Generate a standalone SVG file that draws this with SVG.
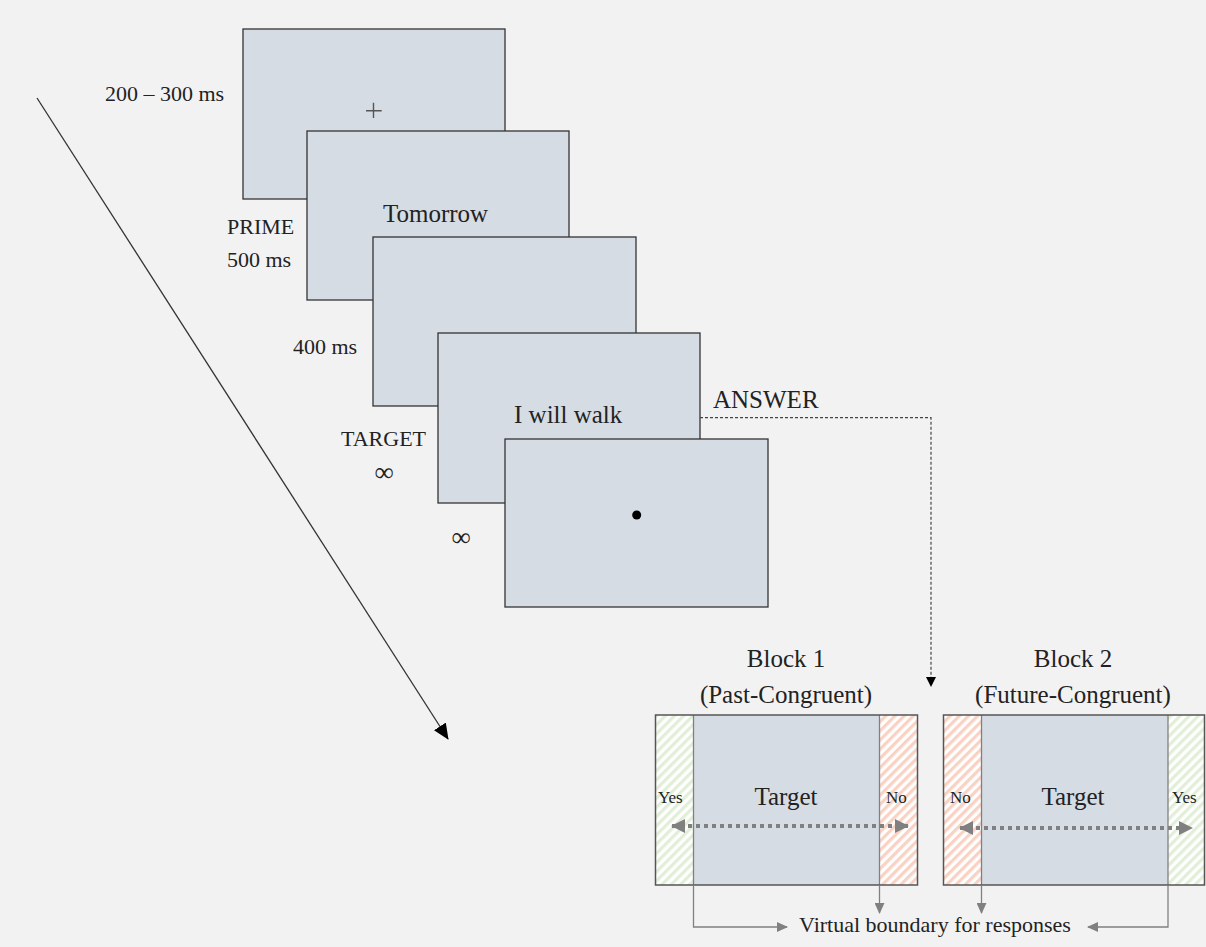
<svg xmlns="http://www.w3.org/2000/svg" width="1206" height="947" viewBox="0 0 1206 947">
<style>
.scr{fill:#d6dce4;stroke:#333;stroke-width:1.3}
.t{font-family:"Liberation Serif","Times New Roman",serif;fill:#222}
.lab{font-size:22px}
.big{font-size:25px}
.inf{font-size:27px}
.gl{stroke:#808080;stroke-width:1.3;fill:none}
.dot{stroke:#808080;stroke-width:4;stroke-dasharray:4 4;fill:none}
</style>
<defs>
<pattern id="hg" width="6.5" height="6.5" patternUnits="userSpaceOnUse" patternTransform="rotate(45)">
<rect width="6.5" height="6.5" fill="#fff"/>
<rect width="3.2" height="6.5" fill="#e2efd8"/>
</pattern>
<pattern id="hr" width="6.5" height="6.5" patternUnits="userSpaceOnUse" patternTransform="rotate(45)">
<rect width="6.5" height="6.5" fill="#fff"/>
<rect width="3.2" height="6.5" fill="#f9d2c3"/>
</pattern>
<marker id="ab" markerWidth="10" markerHeight="10" refX="9" refY="5" orient="auto" markerUnits="userSpaceOnUse">
<path d="M0,0 L10,5 L0,10 Z" fill="#000"/>
</marker>
<marker id="abig" markerWidth="16" markerHeight="14" refX="15" refY="7" orient="auto" markerUnits="userSpaceOnUse">
<path d="M0,0 L16,7 L0,14 Z" fill="#000"/>
</marker>
<marker id="ag" markerWidth="11" markerHeight="10" refX="10" refY="5" orient="auto" markerUnits="userSpaceOnUse">
<path d="M0,0 L11,5 L0,10 Z" fill="#808080"/>
</marker>
<marker id="agb" markerWidth="14" markerHeight="14" refX="13" refY="7" orient="auto-start-reverse" markerUnits="userSpaceOnUse">
<path d="M0,0 L14,7 L0,14 Z" fill="#808080"/>
</marker>
</defs>
<rect width="1206" height="947" fill="#f2f2f2"/>

<g id="time-arrow">
<line x1="37" y1="98" x2="448" y2="739" stroke="#333" stroke-width="1.3" marker-end="url(#abig)"/>
</g>

<g id="screen1">
<rect class="scr" x="243" y="29" width="262" height="170"/>
<path d="M366,110.7 H381.7 M373.5,102.7 V118" stroke="#555" stroke-width="1.4"/>
<text class="t lab" x="105" y="101">200 – 300 ms</text>
</g>
<g id="screen2">
<rect class="scr" x="307" y="131" width="262" height="169"/>
<text class="t big" x="383" y="222">Tomorrow</text>
<text class="t lab" x="227" y="234">PRIME</text>
<text class="t lab" x="227" y="267">500 ms</text>
</g>
<g id="screen3">
<rect class="scr" x="373" y="237" width="263" height="169"/>
<text class="t lab" x="293" y="354">400 ms</text>
</g>
<g id="screen4">
<rect class="scr" x="438" y="333" width="262" height="170"/>
<text class="t big" x="514" y="423">I will walk</text>
<text class="t lab" x="341" y="446">TARGET</text>
<text class="t inf" x="384" y="481" text-anchor="middle">∞</text>
</g>
<g id="screen5">
<rect class="scr" x="505" y="439" width="263" height="168"/>
<circle cx="636.7" cy="515" r="4.5" fill="#000"/>
<text class="t inf" x="461" y="546" text-anchor="middle">∞</text>
</g>

<g id="answer">
<text class="t big" x="713" y="408">ANSWER</text>
</g>

<g id="block1">
<text class="t big" x="786" y="667" text-anchor="middle">Block 1</text>
<text class="t big" x="786" y="703" text-anchor="middle">(Past-Congruent)</text>
<rect x="655.5" y="715" width="38" height="170" fill="url(#hg)"/>
<rect x="879.5" y="715" width="38" height="170" fill="url(#hr)"/>
<rect x="693.5" y="715" width="186" height="170" fill="#d6dce4"/>
<line x1="693.5" y1="715" x2="693.5" y2="885" stroke="#808080" stroke-width="1.3"/>
<line x1="879.5" y1="715" x2="879.5" y2="885" stroke="#808080" stroke-width="1.3"/>
<rect x="655.5" y="715" width="262" height="170" fill="none" stroke="#555" stroke-width="1.5"/>
<text class="t big" x="786" y="805" text-anchor="middle">Target</text>
<text class="t" font-size="17" x="658" y="803">Yes</text>
<text class="t" font-size="17" x="886" y="803">No</text>
</g>

<g id="block2">
<text class="t big" x="1073" y="667" text-anchor="middle">Block 2</text>
<text class="t big" x="1073" y="703" text-anchor="middle">(Future-Congruent)</text>
<rect x="943.5" y="715" width="38" height="170" fill="url(#hr)"/>
<rect x="1168" y="715" width="36.5" height="170" fill="url(#hg)"/>
<rect x="981.5" y="715" width="186.5" height="170" fill="#d6dce4"/>
<line x1="981.5" y1="715" x2="981.5" y2="885" stroke="#808080" stroke-width="1.3"/>
<line x1="1168" y1="715" x2="1168" y2="885" stroke="#808080" stroke-width="1.3"/>
<rect x="943.5" y="715" width="261" height="170" fill="none" stroke="#555" stroke-width="1.5"/>
<text class="t big" x="1073" y="805" text-anchor="middle">Target</text>
<text class="t" font-size="17" x="950" y="803">No</text>
<text class="t" font-size="17" x="1172" y="803">Yes</text>
</g>

<g id="boundary-label">
<text class="t lab" x="935" y="932" text-anchor="middle">Virtual boundary for responses</text>
</g>

<g id="connectors">
<path d="M700,417.7 H931 V686" fill="none" stroke="#444" stroke-width="1.2" stroke-dasharray="3 2" marker-end="url(#ab)"/>
<line class="dot" x1="672" y1="826" x2="908" y2="826" marker-start="url(#agb)" marker-end="url(#agb)"/>
<line class="dot" x1="960" y1="828" x2="1192" y2="828" marker-start="url(#agb)" marker-end="url(#agb)"/>
<path class="gl" d="M693.5,885 V927 H787" marker-end="url(#ag)"/>
<path class="gl" d="M879.5,885 V913" marker-end="url(#ag)"/>
<path class="gl" d="M981.5,885 V913" marker-end="url(#ag)"/>
<path class="gl" d="M1168,885 V927 H1088" marker-end="url(#ag)"/>
</g>
</svg>
